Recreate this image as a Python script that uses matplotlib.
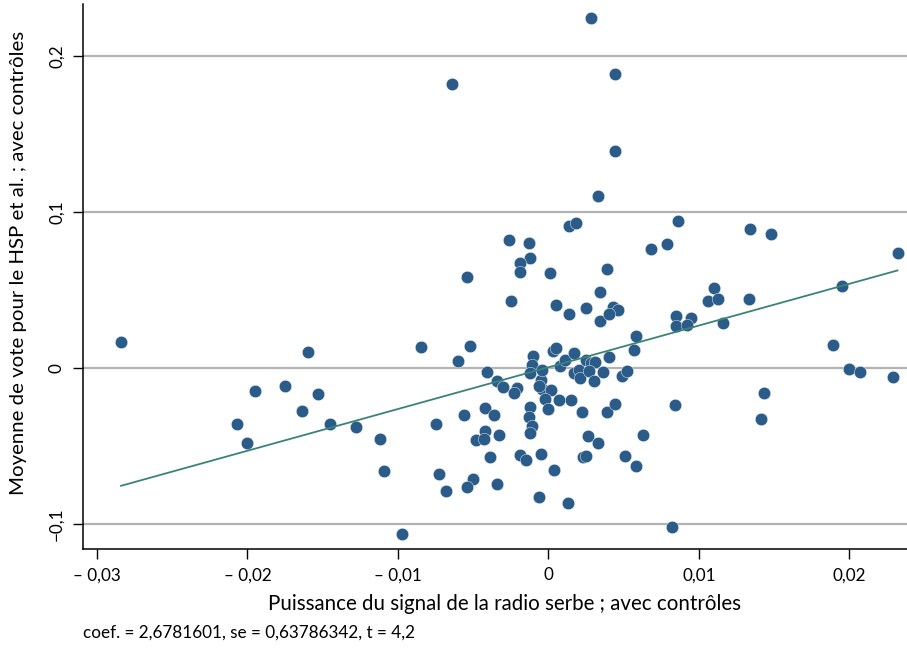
import numpy as np
import matplotlib
matplotlib.use("Agg")
import matplotlib.pyplot as plt

plt.rcParams['font.family'] = ['Lato', 'DejaVu Sans']

# Data
signal = [
    -0.0284, -0.0160, -0.0195, -0.0175, -0.0153, -0.0207, -0.0200, -0.0164, -0.0145, -0.0128,
    -0.0112, -0.0109, -0.0085, -0.0060, -0.0052, -0.0054, -0.0026, -0.0013, -0.0012, -0.0019,
    -0.0019, -0.0025, 0.0001, 0.0033, 0.0014, 0.0018, 0.0005, 0.0014, 0.0025, 0.0034,
    0.0039, 0.0034, 0.0043, 0.0046, 0.0040, 0.0068, 0.0079, 0.0086, 0.0058, 0.0057,
    0.0085, 0.0085, 0.0095, 0.0092, 0.0028, 0.0044, 0.0044, -0.0064, 0.0134, 0.0148,
    0.0232, 0.0110, 0.0106, 0.0113, 0.0133, 0.0116, 0.0195, 0.0189, 0.0200, 0.0207,
    0.0229, 0.0084, 0.0143, 0.0141, 0.0082, -0.0041, -0.0034, -0.0030, -0.0021, -0.0023,
    -0.0075, -0.0056, -0.0042, -0.0036, -0.0042, -0.0048, -0.0043, -0.0033, -0.0039, -0.0073,
    -0.0068, -0.0050, -0.0054, -0.0034, -0.0097, -0.0006, 0.0013, 0.0004, -0.0019, -0.0015,
    -0.0005, -0.0012, -0.0013, -0.0011, -0.0012, -0.0004, 0.0002, -0.0002, 0.0000, 0.0007,
    0.0015, -0.0005, -0.0006, 0.0022, 0.0026, 0.0033, 0.0023, 0.0025, 0.0051, 0.0058,
    0.0063, 0.0039, 0.0044, -0.0010, -0.0011, -0.0012, -0.0004, 0.0003, 0.0005, 0.0008,
    0.0011, 0.0017, 0.0017, 0.0020, 0.0021, 0.0025, 0.0028, 0.0031, 0.0027, 0.0030,
    0.0036, 0.0040, 0.0049, 0.0052,
]
vote = [
    0.0169, 0.0100, -0.0148, -0.0118, -0.0165, -0.0362, -0.0478, -0.0276, -0.0362, -0.0379,
    -0.0456, -0.0662, 0.0135, 0.0045, 0.0141, 0.0584, 0.0820, 0.0800, 0.0706, 0.0674,
    0.0614, 0.0432, 0.0610, 0.1107, 0.0909, 0.0931, 0.0402, 0.0344, 0.0387, 0.0486,
    0.0638, 0.0299, 0.0389, 0.0370, 0.0344, 0.0762, 0.0796, 0.0944, 0.0207, 0.0119,
    0.0336, 0.0267, 0.0321, 0.0274, 0.2243, 0.1890, 0.1395, 0.1820, 0.0895, 0.0858,
    0.0736, 0.0514, 0.0428, 0.0443, 0.0445, 0.0286, 0.0527, 0.0150, -0.0006, -0.0028,
    -0.0056, -0.0236, -0.0157, -0.0328, -0.1019, -0.0028, -0.0080, -0.0122, -0.0131, -0.0157,
    -0.0358, -0.0302, -0.0259, -0.0304, -0.0401, -0.0461, -0.0454, -0.0428, -0.0570, -0.0677,
    -0.0790, -0.0709, -0.0762, -0.0743, -0.1064, -0.0827, -0.0867, -0.0653, -0.0555, -0.0589,
    -0.0550, -0.0253, -0.0315, -0.0375, -0.0414, -0.0135, -0.0144, -0.0199, -0.0263, -0.0204,
    -0.0208, -0.0075, -0.0118, -0.0285, -0.0435, -0.0478, -0.0572, -0.0563, -0.0563, -0.0627,
    -0.0430, -0.0281, -0.0229, 0.0079, 0.0021, -0.0032, -0.0011, 0.0107, 0.0128, 0.0010,
    0.0053, 0.0096, -0.0032, -0.0011, -0.0064, 0.0053, 0.0032, 0.0042, -0.0022, -0.0082,
    -0.0028, 0.0071, -0.0054, -0.0022,
]
coef = 2.6781601
intercept = 0.0005

x_ticks = [-0.03, -0.02, -0.01, 0.0, 0.01, 0.02]
x_ticklabels = ["– 0,03", "– 0,02", "– 0,01", "0", "0,01", "0,02"]
y_ticks = [-0.1, 0.0, 0.1, 0.2]
y_ticklabels = ["−0,1", "0", "0,1", "0,2"]

x = np.array(signal)
y = np.array(vote)

W, H = 907, 649
fig = plt.figure(figsize=(W / 100, H / 100), dpi=100)
left, right, bottom, top = 82.7, 907, 549.3, 4
ax = fig.add_axes([left / W, 1 - bottom / H, (right - left) / W, (bottom - top) / H])

for yt in y_ticks:
    ax.axhline(yt, color="#b3b3b3", lw=1.6, zorder=0)

ax.scatter(x, y, s=80, color="#2b5c89", edgecolors="white", linewidths=0.3, zorder=3)

xl = np.array([x.min(), x.max()])
ax.plot(xl, intercept + coef * xl, color="#3a8477", lw=1.3, zorder=4)

ax.set_xlim(-0.03095, 0.02383)
ax.set_ylim(-0.1163, 0.2336)

ax.set_xticks(x_ticks)
ax.set_xticklabels(x_ticklabels, fontsize=12.3)
ax.set_yticks(y_ticks)
ax.set_yticklabels(y_ticklabels, fontsize=12.3, rotation=90, va="center")

for s in ["top", "right"]:
    ax.spines[s].set_visible(False)
for s in ["left", "bottom"]:
    ax.spines[s].set_linewidth(1.1)
ax.tick_params(axis="both", direction="out", length=7, width=1.0, pad=6)

fig.text(504 / W, 1 - 604 / H, "Puissance du signal de la radio serbe ; avec contrôles",
         fontsize=14.8, ha="center", va="center")
fig.text(19 / W, 1 - 263 / H, "Moyenne de vote pour le HSP et al. ; avec contrôles",
         fontsize=14.7, ha="center", va="center", rotation=90)

fig.text(83 / W, 1 - 633 / H, "coef. = 2,6781601, se = 0,63786342, t = 4,2",
         fontsize=12.3, va="center", ha="left")

fig.savefig("out.png", dpi=100)
